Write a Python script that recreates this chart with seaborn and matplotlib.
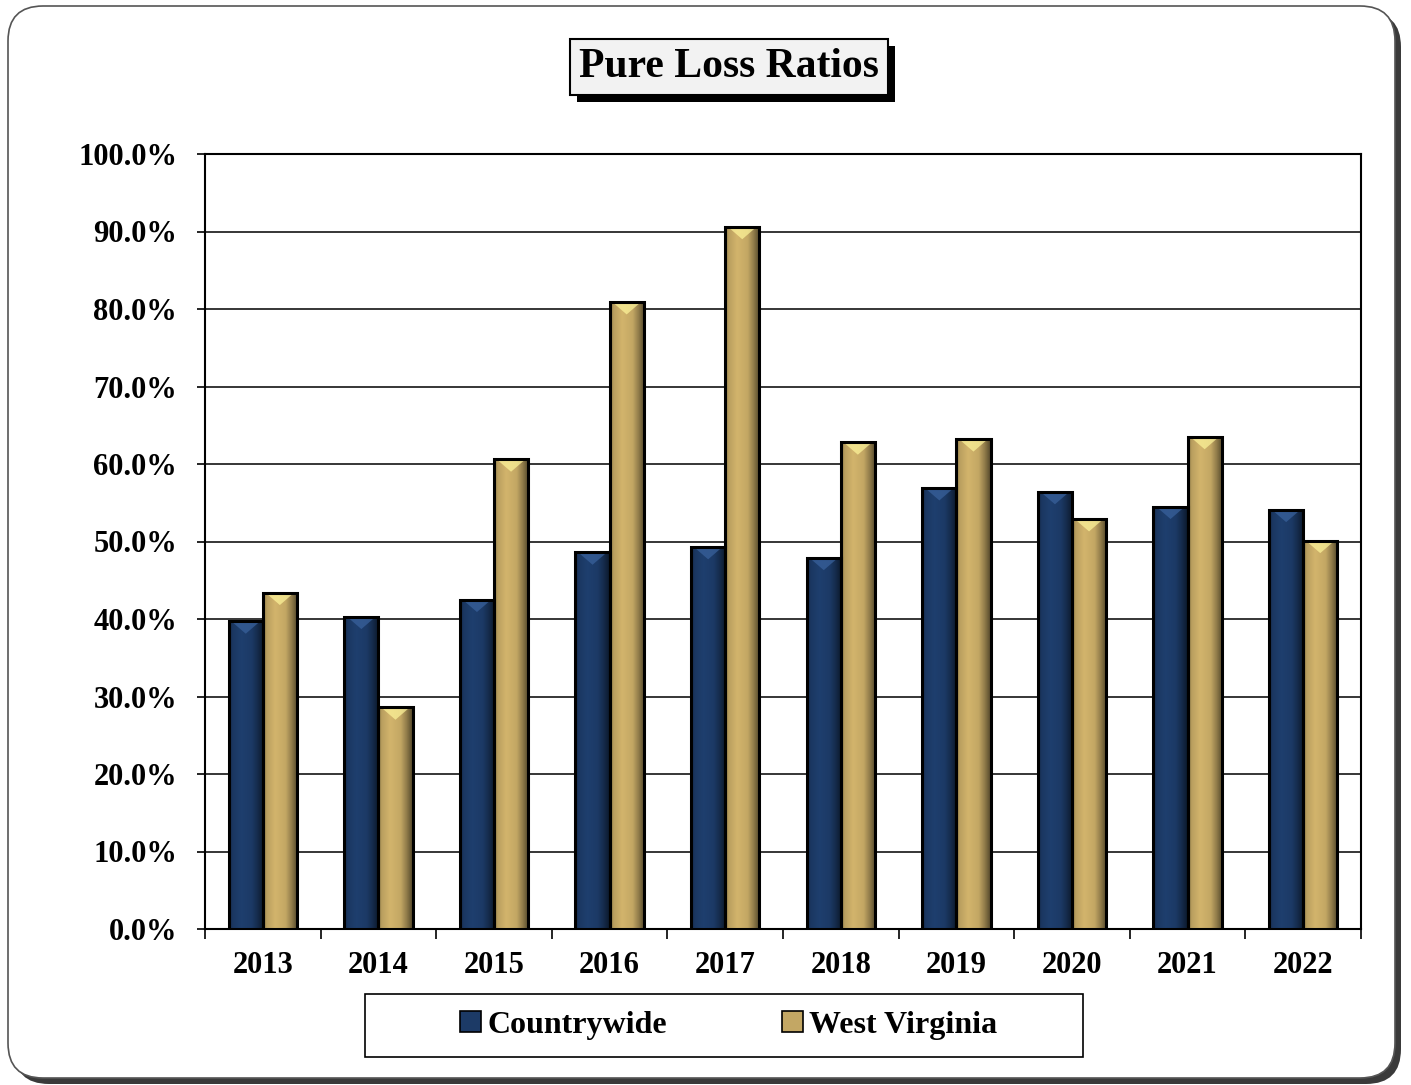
import numpy as np
import pandas as pd
import matplotlib
matplotlib.use("Agg")
import matplotlib.pyplot as plt
import seaborn as sns
from matplotlib.patches import FancyBboxPatch, Rectangle, Patch, Polygon
import matplotlib.patheffects as pe

# data (percent)
years = ["2013", "2014", "2015", "2016", "2017", "2018", "2019", "2020", "2021", "2022"]
countrywide = [39.7, 40.3, 42.5, 48.6, 49.3, 47.9, 56.9, 56.4, 54.5, 54.1]
west_virginia = [43.4, 28.6, 60.6, 80.9, 90.6, 62.8, 63.2, 52.9, 63.5, 50.1]
series_names = ["Countrywide", "West Virginia"]
bar_colors = ["#1c3a66", "#c3a764"]
ytick_vals = list(range(0, 101, 10))

df = pd.DataFrame({
    "Year": years * 2,
    "Series": [series_names[0]] * len(years) + [series_names[1]] * len(years),
    "Ratio": countrywide + west_virginia,
})

sns.set_theme(style="white")
plt.rcParams["font.family"] = ["Liberation Serif", "DejaVu Serif"]
plt.rcParams["font.weight"] = "bold"
plt.rcParams["text.color"] = "black"
plt.rcParams["xtick.color"] = "black"
plt.rcParams["ytick.color"] = "black"

fig = plt.figure(figsize=(14.11, 10.85), dpi=100)

# rounded outer frame with drop shadow
shadow = FancyBboxPatch((0.14, 0.01), 13.87, 10.72, boxstyle="round,pad=0,rounding_size=0.35",
                        transform=fig.dpi_scale_trans, fc="#3a3a3a", ec="none", zorder=-3)
frame = FancyBboxPatch((0.08, 0.07), 13.87, 10.72, boxstyle="round,pad=0,rounding_size=0.35",
                       transform=fig.dpi_scale_trans, fc="white", ec="#555555", lw=1.2, zorder=-2)
fig.patches.extend([shadow, frame])

ax = fig.add_axes([205 / 1411, 1 - 929 / 1085, 1156 / 1411, 775 / 1085])
ax.set_facecolor("none")

sns.barplot(data=df, x="Year", y="Ratio", hue="Series", palette=bar_colors, width=0.59,
            saturation=1, edgecolor="black", linewidth=2, legend=False, ax=ax, zorder=3)

# cylinder-like shading on each bar
t = np.linspace(0, 1, 80)
profile = np.interp(t, [0, 0.1, 0.35, 0.65, 0.82, 1], [0.7, 0.95, 1.08, 1.0, 0.75, 0.42])
for p in list(ax.patches):
    w, h = p.get_width(), p.get_height()
    if h <= 0:
        continue
    x0, y0 = p.get_x(), p.get_y()
    base = np.array(p.get_facecolor()[:3])
    img = np.clip(base[None, None, :] * profile[None, :, None], 0, 1)
    im = ax.imshow(img, extent=[x0, x0 + w, y0, y0 + h], aspect="auto",
                   interpolation="bicubic", zorder=4)
    im.set_clip_path(p)
    light = np.clip(base * 1.35 + 0.08, 0, 1)
    ax.add_patch(Polygon([[x0 + w * 0.08, y0 + h], [x0 + w * 0.92, y0 + h],
                          [x0 + w * 0.5, y0 + h - 1.6]], closed=True,
                         fc=light, ec="none", alpha=0.7, zorder=5))
    ax.add_patch(Rectangle((x0, y0), w, h, fill=False, ec="black", lw=2.2, zorder=6))

ax.set_xlim(-0.5, len(years) - 0.5)
ax.set_ylim(0, 100)
ax.set_yticks(ytick_vals)
ax.set_yticklabels([f"{v:.1f}%" for v in ytick_vals], fontsize=22, fontweight="bold")
ax.set_xticks(range(len(years)))
ax.set_xticklabels(years, fontsize=22, fontweight="bold")
ax.set_xticks(np.arange(-0.5, len(years), 1.0), minor=True)
ax.tick_params(axis="x", which="major", length=0, pad=16)
ax.tick_params(axis="x", which="minor", direction="out", length=7, width=1.2, color="black", bottom=True)
ax.tick_params(axis="y", direction="out", length=6, width=1.2, color="black", left=True, pad=14)
ax.set_xlabel("")
ax.set_ylabel("")
ax.yaxis.grid(True, color="black", lw=1.1)
ax.set_axisbelow(True)
for s in ax.spines.values():
    s.set_visible(True)
    s.set_color("black")
    s.set_linewidth(1.5)

# title box with shadow
title = fig.text(729 / 1411, 1 - 67 / 1085, "Pure Loss Ratios", ha="center", va="center",
                 fontsize=30, fontweight="bold", color="black", zorder=10,
                 bbox=dict(boxstyle="square,pad=0.22", fc="#f2f2f2", ec="black", lw=1.5))
title.get_bbox_patch().set_path_effects([
    pe.SimplePatchShadow(offset=(5, -5), shadow_rgbFace="black", alpha=1.0), pe.Normal()])

# legend
handles = [Patch(fc=c, ec="black", lw=1.2) for c in bar_colors]
fig.legend(handles, series_names, loc="center", bbox_to_anchor=(729 / 1411, 1 - 1025 / 1085),
           ncol=2, frameon=False, prop={"size": 23, "weight": "bold"},
           handlelength=0.65, handleheight=0.65, handletextpad=0.2, columnspacing=3.6)
fig.patches.append(Rectangle((365 / 1411, 1 - 1057 / 1085), 718 / 1411, 63 / 1085,
                             transform=fig.transFigure, fill=False, ec="black", lw=1.2, zorder=9))

fig.savefig("out.png", dpi=100)
